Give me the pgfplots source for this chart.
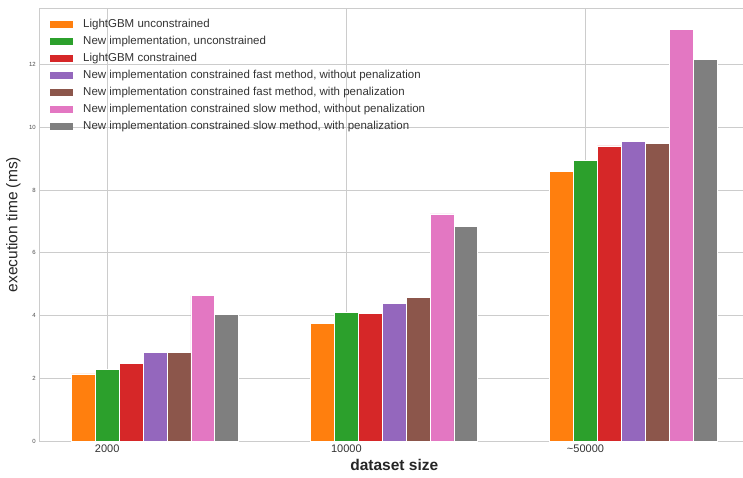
\documentclass[border=0pt]{standalone}
\usepackage{pgfplots}
\pgfplotsset{compat=1.18}
\usepackage{fontspec}
\setmainfont{Liberation Sans}
\definecolor{tOrange}{HTML}{FF7F0E}
\definecolor{tGreen}{HTML}{2CA02C}
\definecolor{tRed}{HTML}{D62728}
\definecolor{tPurple}{HTML}{9467BD}
\definecolor{tBrown}{HTML}{8C564B}
\definecolor{tPink}{HTML}{E377C2}
\definecolor{tGray}{HTML}{7F7F7F}
\definecolor{gridc}{HTML}{CCCCCC}
\begin{document}
\begin{tikzpicture}
\begin{axis}[
  scale only axis,
  width=710pt, height=432.7pt,
  xmin=-0.284, xmax=2.685,
  ymin=0, ymax=13.8,
  ybar, bar width=0.1, bar shift=0pt,
  every axis plot post/.append style={
    legend image code/.code={\fill[#1,draw=none] (0pt,-3.5pt) rectangle (23pt,3.5pt);}
  },
  xtick={0,1,2},
  xticklabels={2000,10000,{\textasciitilde 50000}},
  ytick={0,2,4,6,8,10,12},
  /pgf/number format/assume math mode=true,
  major tick length=0pt,
  xmajorgrids, ymajorgrids,
  grid style={draw=gridc, line width=0.8pt},
  axis line style={draw=gridc, line width=1pt},
  xticklabel style={font=\fontsize{11}{13}\selectfont, text=black!80},
  yticklabel style={font=\fontsize{6}{7}\selectfont, text=black!70},
  xlabel={\textbf{dataset size}},
  ylabel={execution time (ms)},
  xlabel style={font=\fontsize{15.5}{18}\selectfont, text=black!85, at={(axis description cs:0.5,0)}, anchor=center, yshift=-24pt},
  ylabel style={font=\fontsize{15.5}{18}\selectfont, text=black!85, at={(axis description cs:-0.0366,0.5)}, anchor=center},
  legend style={at={(0,1)}, anchor=north west, xshift=10.7pt, yshift=-10.2pt,
    draw=none, fill=none, inner sep=0pt,
    font=\fontsize{11.5}{13}\selectfont, text=black!80,
    nodes={inner ysep=0pt, inner xsep=0pt, text height=8.5pt, text depth=2.5pt},
    row sep=6.1pt, column sep=10pt},
  legend cell align=left,
]
\addplot[fill=tOrange, draw=white, line width=0.8pt] coordinates {(-0.1,2.14) (0.9,3.75) (1.9,8.60)};
\addplot[fill=tGreen, draw=white, line width=0.8pt] coordinates {(0,2.29) (1,4.10) (2,8.94)};
\addplot[fill=tRed, draw=white, line width=0.8pt] coordinates {(0.1,2.46) (1.1,4.08) (2.1,9.41)};
\addplot[fill=tPurple, draw=white, line width=0.8pt] coordinates {(0.2,2.83) (1.2,4.40) (2.2,9.56)};
\addplot[fill=tBrown, draw=white, line width=0.8pt] coordinates {(0.3,2.81) (1.3,4.59) (2.3,9.50)};
\addplot[fill=tPink, draw=white, line width=0.8pt] coordinates {(0.4,4.64) (1.4,7.24) (2.4,13.13)};
\addplot[fill=tGray, draw=white, line width=0.8pt] coordinates {(0.5,4.03) (1.5,6.83) (2.5,12.18)};
\legend{{LightGBM unconstrained},
{New implementation, unconstrained},
{LightGBM constrained},
{New implementation constrained fast method, without penalization},
{New implementation constrained fast method, with penalization},
{New implementation constrained slow method, without penalization},
{New implementation constrained slow method, with penalization}}
\coordinate (bl) at (rel axis cs:0,0);
\end{axis}
\pgfresetboundingbox
\path[use as bounding box] ([xshift=-39.3pt,yshift=-36pt]bl) rectangle ([xshift=703.7pt,yshift=441pt]bl);
\end{tikzpicture}
\end{document}
